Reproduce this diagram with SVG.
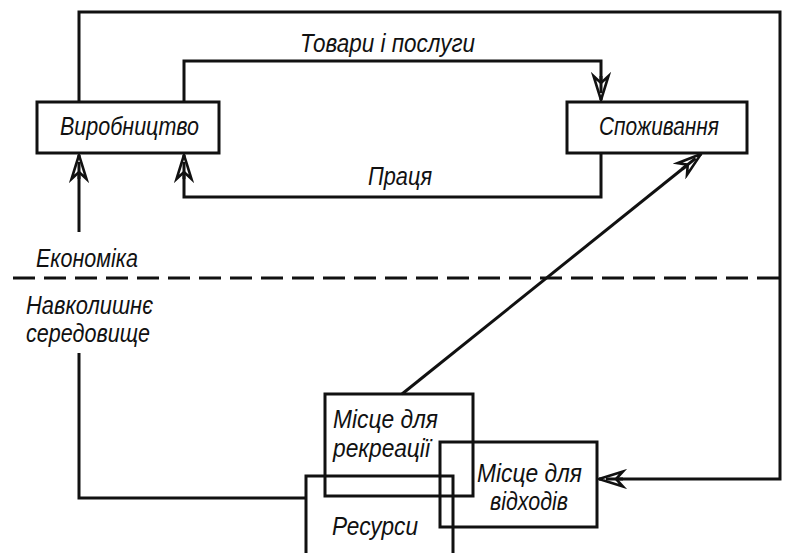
<svg xmlns="http://www.w3.org/2000/svg" width="788" height="553" viewBox="0 0 788 553">
<style>
  .ln { fill: none; stroke: #111; stroke-width: 3; stroke-linejoin: miter; }
  .box { fill: none; stroke: #111; stroke-width: 3; }
  .t { font-family: "Liberation Sans", "DejaVu Sans", sans-serif; font-style: italic; font-size: 25px; fill: #111; }
  .dash { fill: none; stroke: #111; stroke-width: 3; stroke-dasharray: 22 9; }
</style>
<defs>
  <marker id="arr" markerUnits="userSpaceOnUse" viewBox="-28 -10 30 20" refX="0" refY="0" markerWidth="30" markerHeight="20" orient="auto">
    <path d="M0,0 L-24,-7.5 L-17,0 L-24,7.5 Z" fill="#fff" stroke="#111" stroke-width="2.6" stroke-linejoin="miter"/>
    <path d="M-24,0 H-7" stroke="#111" stroke-width="3"/>
  </marker>
</defs>
<rect width="788" height="553" fill="#fff"/>
<g id="connectors">
  <path class="ln" d="M79,102 V12 H780 V479 H599" marker-end="url(#arr)"/>
  <path class="ln" d="M184,102 V61 H601 V100" marker-end="url(#arr)"/>
  <path class="ln" d="M601,153 V197 H184 V155" marker-end="url(#arr)"/>
  <path class="ln" d="M79,232 V155" marker-end="url(#arr)"/>
  <path class="ln" d="M305,498 H79 V353"/>
  <path class="ln" d="M402,394 L701,154" marker-end="url(#arr)"/>
  <path class="dash" d="M13,278 H788"/>
</g>
<g id="label-tovary"><text class="t" x="300" y="52" textLength="175" lengthAdjust="spacingAndGlyphs">Товари і послуги</text></g>
<g id="label-pratsia"><text class="t" x="368" y="185" textLength="64" lengthAdjust="spacingAndGlyphs">Праця</text></g>
<g id="label-ekonomika"><text class="t" x="36" y="267" textLength="102" lengthAdjust="spacingAndGlyphs">Економіка</text></g>
<g id="label-seredovyshche">
  <text class="t" x="26" y="314" textLength="127" lengthAdjust="spacingAndGlyphs">Навколишнє</text>
  <text class="t" x="26" y="342" textLength="124" lengthAdjust="spacingAndGlyphs">середовище</text>
</g>
<g id="node-vyrobnytstvo">
  <rect class="box" x="37" y="102" width="182" height="51"/>
  <text class="t" x="60" y="135" textLength="139" lengthAdjust="spacingAndGlyphs">Виробництво</text>
</g>
<g id="node-spozhyvannia">
  <rect class="box" x="567" y="102" width="180" height="51"/>
  <text class="t" x="599" y="135" textLength="120" lengthAdjust="spacingAndGlyphs">Споживання</text>
</g>
<g id="node-rekreatsiia">
  <rect class="box" x="325" y="394" width="148" height="102"/>
  <text class="t" x="333" y="428" textLength="105" lengthAdjust="spacingAndGlyphs">Місце для</text>
  <text class="t" x="333" y="457" textLength="97" lengthAdjust="spacingAndGlyphs">рекреації</text>
</g>
<g id="node-vidkhody">
  <rect class="box" x="440" y="442" width="157" height="85"/>
  <text class="t" x="477" y="482" textLength="105" lengthAdjust="spacingAndGlyphs">Місце для</text>
  <text class="t" x="490" y="510" textLength="78" lengthAdjust="spacingAndGlyphs">відходів</text>
</g>
<g id="node-resursy">
  <path class="box" d="M306,555 V476 H453 V555"/>
  <text class="t" x="332" y="535" textLength="86" lengthAdjust="spacingAndGlyphs">Ресурси</text>
</g>
</svg>
